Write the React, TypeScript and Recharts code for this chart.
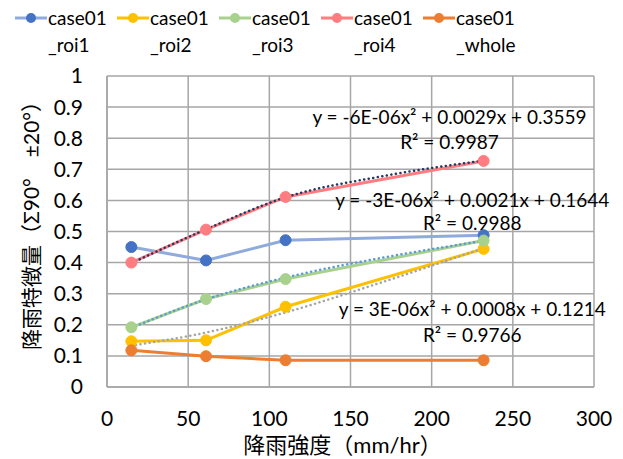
import React from 'react';
import { CartesianGrid, ComposedChart, Line, ReferenceDot, XAxis, YAxis } from 'recharts';

// rainfall intensity (mm/hr) for each case
const rainfall = [15, 61, 110, 232];

const roi1 = [0.45, 0.407, 0.472, 0.488];
const roi2 = [0.147, 0.15, 0.258, 0.444];
const roi3 = [0.192, 0.283, 0.347, 0.471];
const roi4 = [0.4, 0.506, 0.611, 0.727];
const whole = [0.118, 0.099, 0.086, 0.086];

// trend lines
const trendX = [15, 61, 110, 170, 232];
const trendRoi4 = [0.398, 0.507, 0.61, 0.678, 0.728];
const trendRoi3 = [0.19, 0.282, 0.352, 0.416, 0.47];
const trendRoi2 = [0.133, 0.175, 0.24, 0.338, 0.447];

const xTicks = [0, 50, 100, 150, 200, 250, 300];
const yTicks = [0, 0.1, 0.2, 0.3, 0.4, 0.5, 0.6, 0.7, 0.8, 0.9, 1];

const trendLabels = [
  { x: 211, y: 0.868, text: 'y = -6E-06x² + 0.0029x + 0.3559' },
  { x: 211, y: 0.788, text: 'R² = 0.9987' },
  { x: 225, y: 0.6, text: 'y = -3E-06x² + 0.0021x + 0.1644' },
  { x: 225, y: 0.526, text: 'R² = 0.9988' },
  { x: 225, y: 0.249, text: 'y = 3E-06x² + 0.0008x + 0.1214' },
  { x: 225, y: 0.166, text: 'R² = 0.9766' },
];

const toPoints = (xs: number[], ys: number[]) => xs.map((x, i) => ({ x, y: ys[i] }));

const series = [
  { id: 'roi1', name: ['case01', '_roi1'], line: '#8FAADC', dot: '#4472C4', values: roi1 },
  { id: 'roi2', name: ['case01', '_roi2'], line: '#FFC000', dot: '#FFC000', values: roi2 },
  { id: 'roi3', name: ['case01', '_roi3'], line: '#A9D18E', dot: '#A9D18E', values: roi3 },
  { id: 'roi4', name: ['case01', '_roi4'], line: '#FF7C80', dot: '#FF7C80', values: roi4 },
  { id: 'whole', name: ['case01', '_whole'], line: '#ED7D31', dot: '#ED7D31', values: whole },
];

const trends = [
  { id: 't4', color: '#203864', values: trendRoi4 },
  { id: 't3', color: '#5B9BD5', values: trendRoi3 },
  { id: 't2', color: '#A5A5A5', values: trendRoi2 },
];

const FONT = "Lato, 'Noto Sans CJK JP', sans-serif";

const YTitle = (props: any) => {
  const vb = props.viewBox || {};
  const cx = vb.x + 30;
  const cy = vb.y + vb.height / 2 - 11;
  return (
    <text x={cx} y={cy} transform={`rotate(-90 ${cx} ${cy})`} textAnchor="middle" dominantBaseline="central" fontSize={21} fill="#000">
      降雨特徴量（Σ90°　±20°）
    </text>
  );
};

const XTitle = (props: any) => {
  const vb = props.viewBox || {};
  return (
    <text x={vb.x + vb.width / 2 - 8} y={vb.y + 57} textAnchor="middle" dominantBaseline="central" fontSize={22} fill="#000">
      降雨強度（mm/hr）
    </text>
  );
};

const LegendBox = () => (
  <div style={{ position: 'absolute', left: 14, top: 4, display: 'flex' }}>
    {series.map((s) => (
      <div key={s.id} style={{ width: 102, display: 'flex', alignItems: 'flex-start' }}>
        <svg width={34} height={28} style={{ flex: 'none' }}>
          <line x1={1} y1={14} x2={33} y2={14} stroke={s.line} strokeWidth={3} />
          <circle cx={17} cy={14} r={5} fill={s.dot} />
        </svg>
        <div style={{ fontSize: 19, lineHeight: '27px', color: '#000' }}>
          {s.name[0]}
          <br />
          {s.name[1]}
        </div>
      </div>
    ))}
  </div>
);

export default function App() {
  return (
    <div style={{ position: 'absolute', left: 0, top: 0, width: 623, height: 459, background: '#fff', fontFamily: FONT }}>
      <LegendBox />
      <ComposedChart width={623} height={459} margin={{ top: 76, right: 29, bottom: 0, left: 0 }}>
        <CartesianGrid stroke="#A6A6A6" strokeWidth={1.5} />
        <XAxis
          type="number"
          dataKey="x"
          domain={[0, 300]}
          ticks={xTicks}
          height={72}
          tickLine={false}
          tickSize={0}
          tickMargin={24}
          axisLine={{ stroke: '#A6A6A6', strokeWidth: 1.5 }}
          tick={{ fontSize: 21, fill: '#000' }}
          label={<XTitle />}
        />
        <YAxis
          type="number"
          dataKey="y"
          domain={[0, 1]}
          ticks={yTicks}
          width={107}
          tickLine={false}
          tickSize={0}
          tickMargin={24}
          axisLine={{ stroke: '#A6A6A6', strokeWidth: 1.5 }}
          tick={{ fontSize: 21, fill: '#000' }}
          label={<YTitle />}
        />
        {series.map((s) => (
          <Line
            key={s.id}
            data={toPoints(rainfall, s.values)}
            dataKey="y"
            type="linear"
            stroke={s.line}
            strokeWidth={3}
            dot={{ r: 5.5, fill: s.dot, stroke: s.dot, strokeWidth: 1 }}
            isAnimationActive={false}
          />
        ))}
        {trends.map((t) => (
          <Line
            key={t.id}
            data={toPoints(trendX, t.values)}
            dataKey="y"
            type="monotone"
            stroke={t.color}
            strokeWidth={2.5}
            strokeDasharray="0.1 4.5"
            strokeLinecap="round"
            dot={false}
            isAnimationActive={false}
          />
        ))}
        {trendLabels.map((l, i) => (
          <ReferenceDot
            key={i}
            x={l.x}
            y={l.y}
            r={0}
            stroke="none"
            label={{ value: l.text, position: 'center', fill: '#000', fontSize: 19 }}
          />
        ))}
      </ComposedChart>
    </div>
  );
}
